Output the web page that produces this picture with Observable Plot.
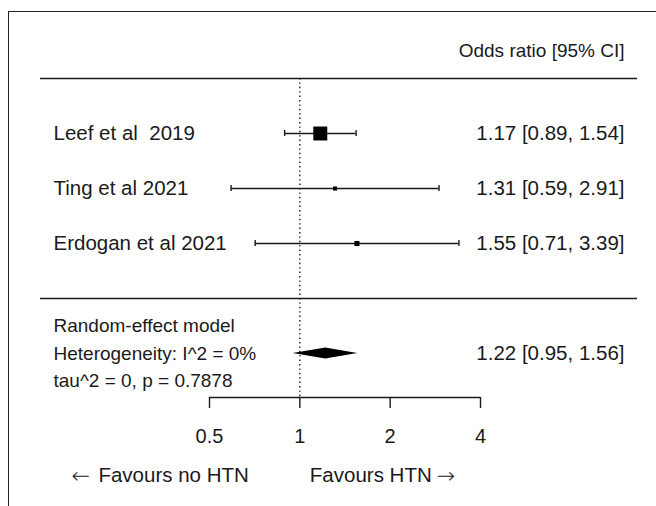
<!DOCTYPE html>
<html>
<head>
<meta charset="utf-8">
<script src="https://cdn.jsdelivr.net/npm/d3@7"></script>
<script src="https://cdn.jsdelivr.net/npm/@observablehq/plot@0.6"></script>
<style>
  html, body { margin: 0; padding: 0; background: #fff; }
  #wrap { position: relative; width: 656px; height: 506px; overflow: hidden; }
  #box { position: absolute; left: 8px; top: 11px; width: 700px; height: 600px;
         border-left: 1.5px solid #222; border-top: 1.5px solid #222; }
  #chart { position: absolute; left: 0; top: 0; }
</style>
</head>
<body>
<div id="wrap"><div id="box"></div><div id="chart"></div></div>
<script>
// ---- data ----
const studies = ["Leef et al  2019", "Ting et al 2021", "Erdogan et al 2021"];
const orEst   = [1.17, 1.31, 1.55];
const orLo    = [0.89, 0.59, 0.71];
const orHi    = [1.54, 2.91, 3.39];
const weights = [82, 7, 11]; // estimated from square sizes
const pooled  = {est: 1.22, lo: 0.95, hi: 1.56};
const summaryLabels = ["Random-effect model", "Heterogeneity: I^2 = 0%", "tau^2 = 0, p = 0.7878"];
const header = "Odds ratio [95% CI]";
const xTicks = [0.5, 1, 2, 4];
const labelLeft = "Favours no HTN";
const labelRight = "Favours HTN";
const arrowLeft = "\u2190";
const arrowRight = "\u2192";

// ---- layout (row units) ----
const studyRows = [0, 2, 4];
const HEADER_U = -3, TOP_RULE_U = -2, BOTTOM_RULE_U = 6;
const SUM_U = [7, 8, 9];
const AXIS_U = 9.6, FAV_U = 12.44;
const CAP = 0.11, DIAMOND_H = 0.2;

const fmt = d => d.toFixed(2);
const rows = studies.map((name, i) => ({
  name, est: orEst[i], lo: orLo[i], hi: orHi[i], w: weights[i], u: studyRows[i],
  label: `${fmt(orEst[i])} [${fmt(orLo[i])}, ${fmt(orHi[i])}]`
}));
const pooledLabel = `${fmt(pooled.est)} [${fmt(pooled.lo)}, ${fmt(pooled.hi)}]`;
const diamond = [
  {x: pooled.lo, y1: SUM_U[1], y2: SUM_U[1]},
  {x: pooled.est, y1: SUM_U[1] - DIAMOND_H, y2: SUM_U[1] + DIAMOND_H},
  {x: pooled.hi, y1: SUM_U[1], y2: SUM_U[1]}
];
const summaryRows = summaryLabels.map((t, i) => ({t, u: SUM_U[i]}));
const ink = "#1a1a1a";
const arrowFont = "'DejaVu Sans', sans-serif";

const chart = Plot.plot({
  width: 656,
  height: 506,
  marginLeft: 40,
  marginRight: 19,
  marginTop: 0,
  marginBottom: 109,
  style: {fontFamily: "'Liberation Sans', Arial, sans-serif", fontSize: "20px", color: ink, background: "transparent"},
  x: {type: "log", domain: [0.5, 4], range: [209, 480]},
  y: {domain: [-4, 12], range: [23, 463], axis: null},
  r: {type: "sqrt", domain: [0, 100], range: [0, 8.7]},
  marks: [
    // separators
    Plot.ruleY([TOP_RULE_U, BOTTOM_RULE_U], {stroke: ink, strokeWidth: 1.5}),
    // reference line at OR = 1
    Plot.ruleX([1], {y1: TOP_RULE_U, y2: AXIS_U, stroke: ink, strokeWidth: 1.4, strokeDasharray: "1.4,3"}),
    // CI lines and caps
    Plot.ruleY(rows, {y: "u", x1: "lo", x2: "hi", stroke: ink, strokeWidth: 1.4}),
    Plot.ruleX(rows, {x: "lo", y1: d => d.u - CAP, y2: d => d.u + CAP, stroke: ink, strokeWidth: 1.4}),
    Plot.ruleX(rows, {x: "hi", y1: d => d.u - CAP, y2: d => d.u + CAP, stroke: ink, strokeWidth: 1.4}),
    // weighted squares
    Plot.dot(rows, {x: "est", y: "u", r: "w", symbol: "square", fill: "#000", stroke: "none"}),
    // pooled diamond
    Plot.areaY(diamond, {x: "x", y1: "y1", y2: "y2", fill: "#000"}),
    // header
    Plot.text([header], {text: d => d, y: HEADER_U, frameAnchor: "right", textAnchor: "end", dx: -13, fontSize: 19, fill: ink}),
    // study labels and values
    Plot.text(rows, {text: "name", y: "u", frameAnchor: "left", textAnchor: "start", dx: 13, fontSize: 20.5, fill: ink}),
    Plot.text(rows, {text: "label", y: "u", frameAnchor: "right", textAnchor: "end", dx: -13, fontSize: 20.5, fill: ink}),
    // summary text
    Plot.text(summaryRows, {text: "t", y: "u", frameAnchor: "left", textAnchor: "start", dx: 13, fontSize: 19, fill: ink}),
    Plot.text([pooledLabel], {text: d => d, y: SUM_U[1], frameAnchor: "right", textAnchor: "end", dx: -13, fontSize: 20.5, fill: ink}),
    // x axis
    Plot.ruleY([{u: AXIS_U, a: xTicks[0], b: xTicks[xTicks.length - 1]}], {y: "u", x1: "a", x2: "b", stroke: ink, strokeWidth: 1.4}),
    Plot.axisX({ticks: xTicks, tickFormat: d => String(d), tickSize: 11, tickPadding: 20, fontSize: 20, stroke: ink, strokeWidth: 1.4, label: null}),
    // favours labels
    Plot.text([labelLeft], {text: d => d, x: 1, y: FAV_U, textAnchor: "end", dx: -51, fontSize: 20.5, fill: ink}),
    Plot.text([arrowLeft], {text: d => d, x: 1, y: FAV_U, textAnchor: "end", dx: -210, fontSize: 22, fontFamily: arrowFont, fontWeight: 200, fill: ink}),
    Plot.text([labelRight], {text: d => d, x: 1, y: FAV_U, textAnchor: "start", dx: 10, fontSize: 20.5, fill: ink}),
    Plot.text([arrowRight], {text: d => d, x: 1, y: FAV_U, textAnchor: "start", dx: 137, fontSize: 22, fontFamily: arrowFont, fontWeight: 200, fill: ink})
  ]
});
document.getElementById("chart").appendChild(chart);
</script>
</body>
</html>
